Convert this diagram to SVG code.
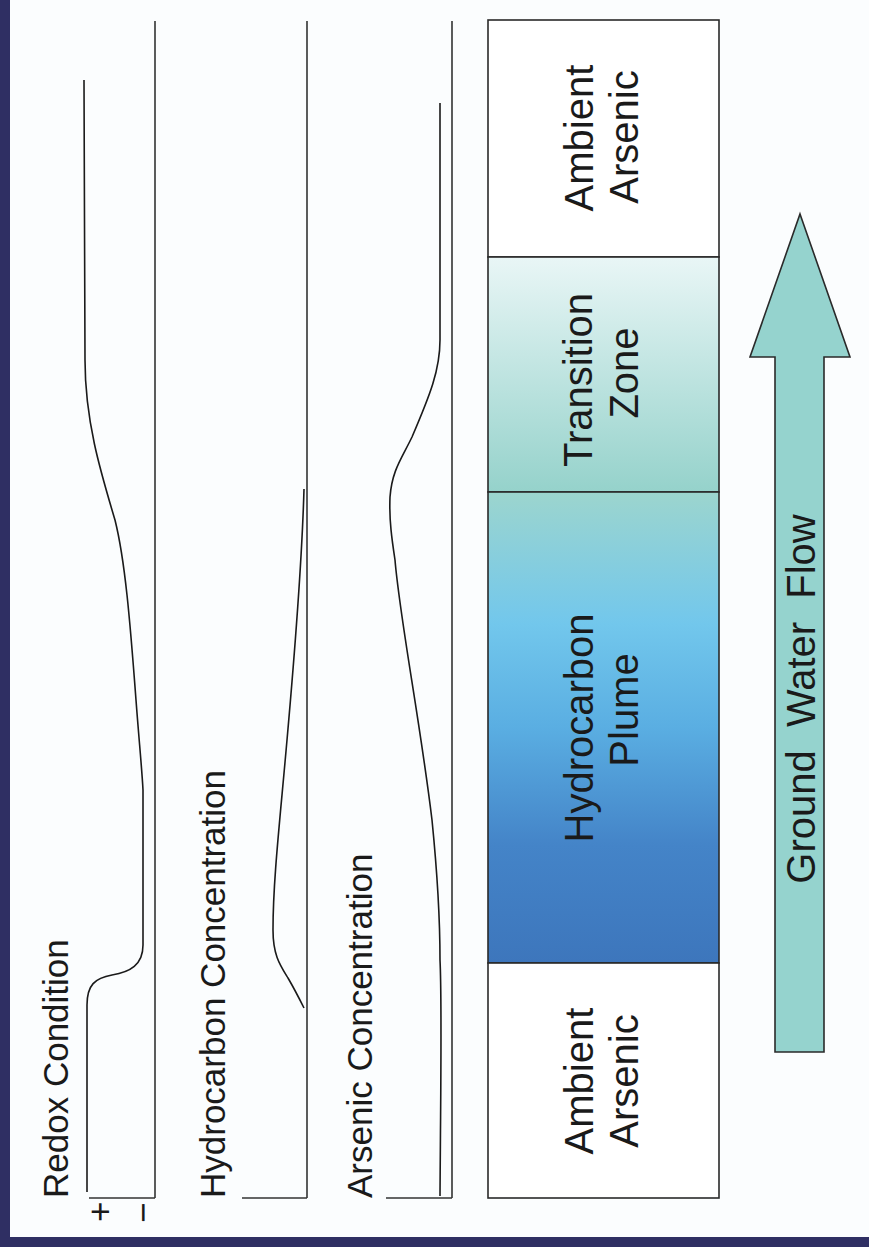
<svg xmlns="http://www.w3.org/2000/svg" width="869" height="1247" viewBox="0 0 869 1247">
<style>
.ax{stroke:#333;stroke-width:1.6;fill:none}
.cv{stroke:#1a1a1a;stroke-width:1.6;fill:none}
.zone{stroke:#2a2a2a;stroke-width:1.6}
.lbl{font-family:"Liberation Sans",Arial,sans-serif;font-size:35px;fill:#1a1a1a}
.zl{font-family:"Liberation Sans",Arial,sans-serif;font-size:40px;fill:#1a1a1a;text-anchor:middle}
</style>
<defs>
<linearGradient id="gT" x1="0" y1="0" x2="0" y2="1">
<stop offset="0" stop-color="#e9f6f6"/>
<stop offset="1" stop-color="#95d2cb"/>
</linearGradient>
<linearGradient id="gH" x1="0" y1="0" x2="0" y2="1">
<stop offset="0" stop-color="#9cd5ce"/>
<stop offset="0.28" stop-color="#72c7ec"/>
<stop offset="0.5" stop-color="#5aaee2"/>
<stop offset="0.75" stop-color="#4484c8"/>
<stop offset="1" stop-color="#3d76bc"/>
</linearGradient>
</defs>
<rect x="0" y="0" width="869" height="1247" fill="#fbfdfe"/>
<rect x="0" y="0" width="10" height="1247" fill="#2f2f63"/>
<rect x="0" y="1237" width="869" height="10" fill="#2f2f63"/>

<g id="redox-panel">
<line class="ax" x1="155" y1="21" x2="155" y2="1198"/>
<line class="ax" x1="89" y1="1198" x2="155" y2="1198"/>
<path class="cv" d="M84,80 L85,360 C85,420 100,470 115,520 C125,560 130,620 136,700 C139,740 142,770 143,790 L143,945 C143,965 130,972 112,975 C95,978 87,985 87,1005 L87,1192"/>
<text class="lbl" transform="translate(68,1198) rotate(-90)">Redox Condition</text>
<text class="lbl" font-size="30" transform="translate(112,1222) rotate(-90)">+</text>
<text class="lbl" font-size="30" transform="translate(155,1223) rotate(-90)">−</text>
</g>

<g id="hydrocarbon-panel">
<line class="ax" x1="307" y1="21" x2="307" y2="1198"/>
<line class="ax" x1="242" y1="1198" x2="307" y2="1198"/>
<path class="cv" d="M304,489 C302,560 295,650 287,740 C280,820 273,880 273,930 C273,955 280,965 288,978 C295,990 300,1000 304,1008"/>
<text class="lbl" transform="translate(225,1198) rotate(-90)">Hydrocarbon Concentration</text>
</g>

<g id="arsenic-panel">
<line class="ax" x1="452" y1="21" x2="452" y2="1198"/>
<line class="ax" x1="386" y1="1198" x2="452" y2="1198"/>
<path class="cv" d="M440,103 L440,340 C440,370 430,395 412,437 C402,458 392,470 390,497 C389,520 392,540 395,560 C400,620 420,720 432,820 C437,870 440,920 440,960 C442,1000 441,1050 440,1196"/>
<text class="lbl" transform="translate(372,1198) rotate(-90)">Arsenic Concentration</text>
</g>

<g id="zone-ambient-top">
<rect class="zone" x="488" y="20" width="231" height="237" fill="#ffffff"/>
<text class="zl" transform="translate(593,138) rotate(-90)">Ambient</text>
<text class="zl" transform="translate(638,137) rotate(-90)">Arsenic</text>
</g>
<g id="zone-transition">
<rect class="zone" x="488" y="257" width="231" height="235" fill="url(#gT)"/>
<text class="zl" transform="translate(592,380) rotate(-90)">Transition</text>
<text class="zl" transform="translate(638,373) rotate(-90)">Zone</text>
</g>
<g id="zone-plume">
<rect class="zone" x="488" y="492" width="231" height="471" fill="url(#gH)"/>
<text class="zl" transform="translate(593,728) rotate(-90)">Hydrocarbon</text>
<text class="zl" transform="translate(638,710) rotate(-90)">Plume</text>
</g>
<g id="zone-ambient-bottom">
<rect class="zone" x="488" y="963" width="231" height="235" fill="#ffffff"/>
<text class="zl" transform="translate(593,1081) rotate(-90)">Ambient</text>
<text class="zl" transform="translate(638,1081) rotate(-90)">Arsenic</text>
</g>

<g id="connectors">
<path d="M800,214 L850,357 L824,357 L824,1052 L775,1052 L775,357 L750,357 Z" fill="#95d3ce" stroke="#2a2a2a" stroke-width="1.6" stroke-linejoin="miter"/>
<text class="zl" font-size="38" word-spacing="12" transform="translate(815,699) rotate(-90)">Ground Water Flow</text>
</g>
</svg>
